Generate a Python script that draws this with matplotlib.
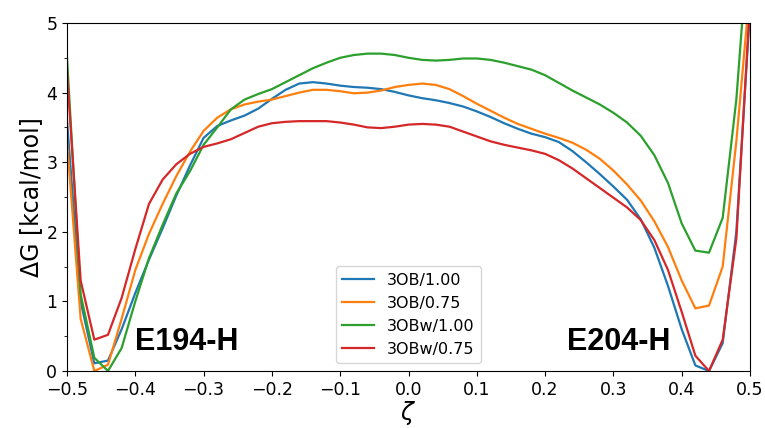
import numpy as np
import matplotlib
matplotlib.use("Agg")
import matplotlib.pyplot as plt
from matplotlib.ticker import MultipleLocator

zeta = np.round(np.arange(-0.5, 0.5001, 0.02), 2)

g_3ob_100 = [3.6, 1.0, 0.11, 0.15, 0.6, 1.12, 1.6, 2.05, 2.52, 2.95,
             3.35, 3.52, 3.60, 3.67, 3.77, 3.91, 4.04, 4.13, 4.15, 4.13,
             4.10, 4.08, 4.07, 4.05, 4.01, 3.96, 3.92, 3.89, 3.85, 3.80,
             3.73, 3.65, 3.56, 3.48, 3.41, 3.36, 3.29, 3.16, 3.00, 2.83,
             2.65, 2.46, 2.18, 1.77, 1.22, 0.60, 0.08, 0.0, 0.40, 2.0, 5.2]

g_3ob_075 = [3.3, 0.75, 0.0, 0.09, 0.75, 1.45, 1.97, 2.40, 2.80, 3.15,
             3.45, 3.64, 3.76, 3.83, 3.87, 3.90, 3.95, 4.00, 4.04, 4.04,
             4.02, 3.99, 4.00, 4.03, 4.08, 4.11, 4.13, 4.11, 4.05, 3.95,
             3.84, 3.74, 3.64, 3.55, 3.48, 3.41, 3.35, 3.28, 3.18, 3.05,
             2.88, 2.68, 2.45, 2.15, 1.78, 1.30, 0.90, 0.94, 1.50, 3.3, 5.5]

g_3obw_100 = [4.5, 1.1, 0.19, 0.0, 0.33, 1.0, 1.62, 2.10, 2.55, 2.87,
              3.25, 3.50, 3.76, 3.90, 3.98, 4.05, 4.15, 4.25, 4.35, 4.43,
              4.50, 4.54, 4.56, 4.56, 4.54, 4.50, 4.47, 4.46, 4.47, 4.49,
              4.49, 4.47, 4.43, 4.38, 4.33, 4.25, 4.14, 4.03, 3.93, 3.83,
              3.71, 3.57, 3.38, 3.10, 2.70, 2.12, 1.73, 1.70, 2.20, 3.9, 6.5]

g_3obw_075 = [4.3, 1.3, 0.45, 0.52, 1.05, 1.75, 2.40, 2.75, 2.97, 3.12,
              3.22, 3.27, 3.33, 3.42, 3.51, 3.56, 3.58, 3.59, 3.59, 3.59,
              3.57, 3.54, 3.50, 3.49, 3.51, 3.54, 3.55, 3.54, 3.51, 3.44,
              3.37, 3.30, 3.25, 3.21, 3.17, 3.12, 3.03, 2.91, 2.77, 2.63,
              2.49, 2.35, 2.17, 1.88, 1.45, 0.85, 0.22, 0.0, 0.45, 1.9, 5.3]

series = [("3OB/1.00", g_3ob_100), ("3OB/0.75", g_3ob_075),
          ("3OBw/1.00", g_3obw_100), ("3OBw/0.75", g_3obw_075)]
colors = ["#1f77b4", "#ff7f0e", "#2ca02c", "#d62728"]

fig = plt.figure(figsize=(7.65, 4.28), dpi=100)
ax = fig.add_axes([67/765, 1-371/428, (750-67)/765, (371-23)/428])

for (lab, vals), c in zip(series, colors):
    ax.plot(zeta, vals, color=c, lw=1.6, label=lab)

ax.set_xlim(-0.5, 0.5)
ax.set_ylim(0, 5)
ax.xaxis.set_major_locator(MultipleLocator(0.1))
ax.yaxis.set_major_locator(MultipleLocator(1))
ax.yaxis.set_minor_locator(MultipleLocator(0.5))
ax.tick_params(labelsize=12.5)
ax.set_xlabel(r"$\zeta$", fontsize=17, labelpad=0)
ax.set_ylabel("ΔG [kcal/mol]", fontsize=17, labelpad=2)

ax.text(-0.40, 0.30, "E194-H", fontsize=22, fontweight="bold",
        family="Liberation Sans", ha="left", va="baseline")
ax.text(0.232, 0.30, "E204-H", fontsize=22, fontweight="bold",
        family="Liberation Sans", ha="left", va="baseline")

ax.legend(loc="lower center", fontsize=11.5)

fig.savefig("out.png", dpi=100)
